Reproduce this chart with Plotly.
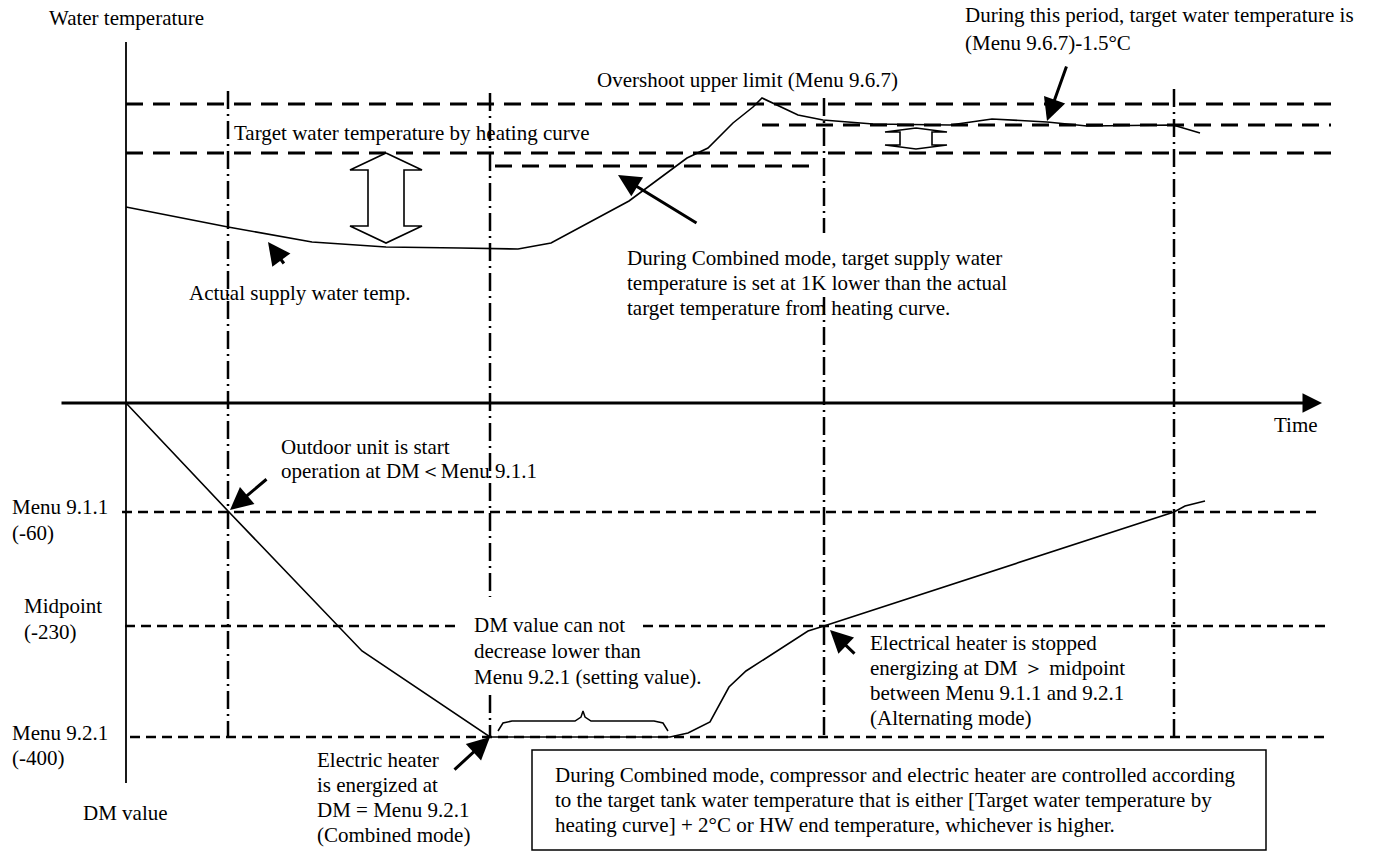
import plotly.graph_objects as go

W, H = 1375, 851
FONT = "Liberation Serif"
INK = "black"

# ---------------- data (diagram units: time to the right, level downward on page) -------------
# Upper panel: actual supply water temperature curve
supply_time = [126, 228, 312, 386, 460, 518, 551, 629, 687, 708, 733, 753, 762,
               798, 823, 873, 950, 992, 1047, 1087, 1173, 1200]
supply_level = [207, 227, 242, 247, 248, 249, 243, 201, 158, 148, 123, 107, 98,
                115, 120, 124, 125, 119, 122, 126, 125, 133]

# Lower panel: DM value curve
dm_time = [126, 228, 362, 490, 670, 688, 710, 729, 746, 808, 824, 1174, 1185, 1205]
dm_level = [403, 511, 651, 737, 737, 733, 722, 687, 671, 631, 626, 512, 506, 501]

# Water temperature reference levels: (level, start time, end time)
temp_ref_level = [104, 153, 125, 166]
temp_ref_start = [126, 126, 762, 495]
temp_ref_end = [1331, 1331, 1331, 812]

# DM reference levels (Menu 9.1.1, Midpoint x2 segments, Menu 9.2.1)
dm_ref_level = [512, 626, 626, 737]
dm_ref_start = [122, 125, 643, 130]
dm_ref_end = [1322, 460, 1325, 1330]

# Event time markers (dash-dot verticals): time, top, bottom
event_time = [228, 490, 490, 824, 824, 1174]
event_top = [91, 93, 695, 98, 297, 89]
event_bottom = [737, 597, 737, 233, 737, 737]

# axes of the diagram
axis_origin_time = 126
time_axis_level = 403
time_axis_start, time_axis_end = 60, 1322
value_axis_top, value_axis_bottom = 42, 783

fig = go.Figure()


def segs(x0s, x1s, y0s, y1s):
    xs, ys = [], []
    for a, b, c, d in zip(x0s, x1s, y0s, y1s):
        xs += [a, b, None]
        ys += [c, d, None]
    return xs, ys


# upper dashed reference lines
xs, ys = segs(temp_ref_start, temp_ref_end, temp_ref_level, temp_ref_level)
fig.add_trace(go.Scatter(x=xs, y=ys, mode="lines",
                         line=dict(color=INK, width=3, dash="17px,10px")))
# lower dashed reference lines
xs, ys = segs(dm_ref_start, dm_ref_end, dm_ref_level, dm_ref_level)
fig.add_trace(go.Scatter(x=xs, y=ys, mode="lines",
                         line=dict(color=INK, width=2.5, dash="10px,6px")))
# dash-dot event lines
xs, ys = segs(event_time, event_time, event_top, event_bottom)
fig.add_trace(go.Scatter(x=xs, y=ys, mode="lines",
                         line=dict(color=INK, width=2.5, dash="18px,5px,2px,5px")))
# vertical value axis
fig.add_trace(go.Scatter(x=[axis_origin_time, axis_origin_time],
                         y=[value_axis_top, value_axis_bottom], mode="lines",
                         line=dict(color=INK, width=1.8)))
# curves
fig.add_trace(go.Scatter(x=supply_time, y=supply_level, mode="lines",
                         line=dict(color=INK, width=1.6)))
fig.add_trace(go.Scatter(x=dm_time, y=dm_level, mode="lines",
                         line=dict(color=INK, width=1.6)))


# hollow double arrows
def double_arrow(cx, top, bottom, head_hw, shaft_hw, head_len):
    xs = [cx, cx + head_hw, cx + shaft_hw, cx + shaft_hw, cx + head_hw, cx,
          cx - head_hw, cx - shaft_hw, cx - shaft_hw, cx - head_hw, cx]
    ys = [top, top + head_len, top + head_len, bottom - head_len, bottom - head_len, bottom,
          bottom - head_len, bottom - head_len, top + head_len, top + head_len, top]
    return xs, ys


for cx, top, bottom, hhw, shw, hl in [(386, 153, 243, 36, 18, 17), (916, 128, 149, 31, 16, 4)]:
    xs, ys = double_arrow(cx, top, bottom, hhw, shw, hl)
    fig.add_trace(go.Scatter(x=xs, y=ys, mode="lines", fill="toself", fillcolor="white",
                             line=dict(color=INK, width=1.6)))

# brace over the flat DM part
brace_x = [498, 503, 512, 575, 581, 583, 585, 591, 654, 663, 668]
brace_y = [731, 723, 721, 721, 717, 711, 717, 721, 721, 723, 731]
fig.add_trace(go.Scatter(x=brace_x, y=brace_y, mode="lines", line=dict(color=INK, width=1.5)))

# text box
fig.add_shape(type="rect", x0=532, x1=1266, y0=750, y1=850,
              line=dict(color=INK, width=1.5), fillcolor="white")

annotations = []


def text_lines(lines, x, y0, dy=25, anchor="left", size=21):
    for i, t in enumerate(lines):
        annotations.append(dict(x=x, y=y0 + i * dy, text=t, showarrow=False,
                                xanchor=anchor, yanchor="middle",
                                font=dict(family=FONT, size=size, color=INK)))


text_lines(["Water temperature"], 47, 18)
text_lines(["Target water temperature by heating curve"], 232, 133)
text_lines(["Overshoot upper limit (Menu 9.6.7)"], 595, 80)
text_lines(["During this period, target water temperature is", "(Menu 9.6.7)-1.5°C"], 963, 15, dy=28)
text_lines(["Actual supply water temp."], 187, 293)
text_lines(["During Combined mode, target supply water",
            "temperature is set at 1K lower than the actual",
            "target temperature from heating curve."], 625, 258)
text_lines(["Time"], 1320, 425, anchor="right")
text_lines(["Outdoor unit is start", "operation at DM＜Menu 9.1.1"], 279, 447, dy=24)
text_lines(["Menu 9.1.1", "(-60)"], 10, 507, dy=26)
text_lines(["Midpoint", "(-230)"], 22, 606, dy=26)
text_lines(["Menu 9.2.1", "(-400)"], 10, 733, dy=25)
text_lines(["DM value"], 125, 813, anchor="center")
text_lines(["DM value can not", "decrease lower than", "Menu 9.2.1 (setting value)."], 472, 625, dy=26)
text_lines(["Electric heater", "is energized at", "DM = Menu 9.2.1", "(Combined mode)"], 315, 760)
text_lines(["Electrical heater is stopped", "energizing at DM ＞ midpoint",
            "between Menu 9.1.1 and 9.2.1", "(Alternating mode)"], 868, 643)
text_lines(["During Combined mode, compressor and electric heater are controlled according",
            "to the target tank water temperature that is either [Target water temperature by",
            "heating curve] + 2°C or HW end temperature, whichever is higher."], 553, 775)

# pointer arrows: (tip x, tip y, tail x, tail y)
pointer_tip_x = [268, 618, 1047, 230, 490, 830]
pointer_tip_y = [242, 175, 121, 510, 737, 630]
pointer_tail_x = [285, 698, 1067, 268, 453, 856]
pointer_tail_y = [265, 224, 65, 478, 771, 655]
for tx, ty, ax, ay in zip(pointer_tip_x, pointer_tip_y, pointer_tail_x, pointer_tail_y):
    annotations.append(dict(x=tx, y=ty, ax=ax, ay=ay, xref="x", yref="y", axref="x", ayref="y",
                            text="", showarrow=True, arrowhead=2, arrowsize=1.5,
                            arrowwidth=3, arrowcolor=INK))

# time axis arrow
annotations.append(dict(x=time_axis_end, y=time_axis_level, ax=time_axis_start, ay=time_axis_level,
                        xref="x", yref="y", axref="x", ayref="y", text="", showarrow=True,
                        arrowhead=2, arrowsize=1.3, arrowwidth=3, arrowcolor=INK))

fig.update_layout(
    width=W, height=H, margin=dict(l=0, r=0, t=0, b=0),
    paper_bgcolor="white", plot_bgcolor="white", showlegend=False, hovermode=False,
    xaxis=dict(range=[0, W], visible=False, fixedrange=True),
    yaxis=dict(range=[H, 0], visible=False, fixedrange=True),
    annotations=annotations,
)

fig.write_html("out.html", config={"displayModeBar": False},
               post_script="document.body.style.margin='0px';document.body.style.overflow='hidden';")
